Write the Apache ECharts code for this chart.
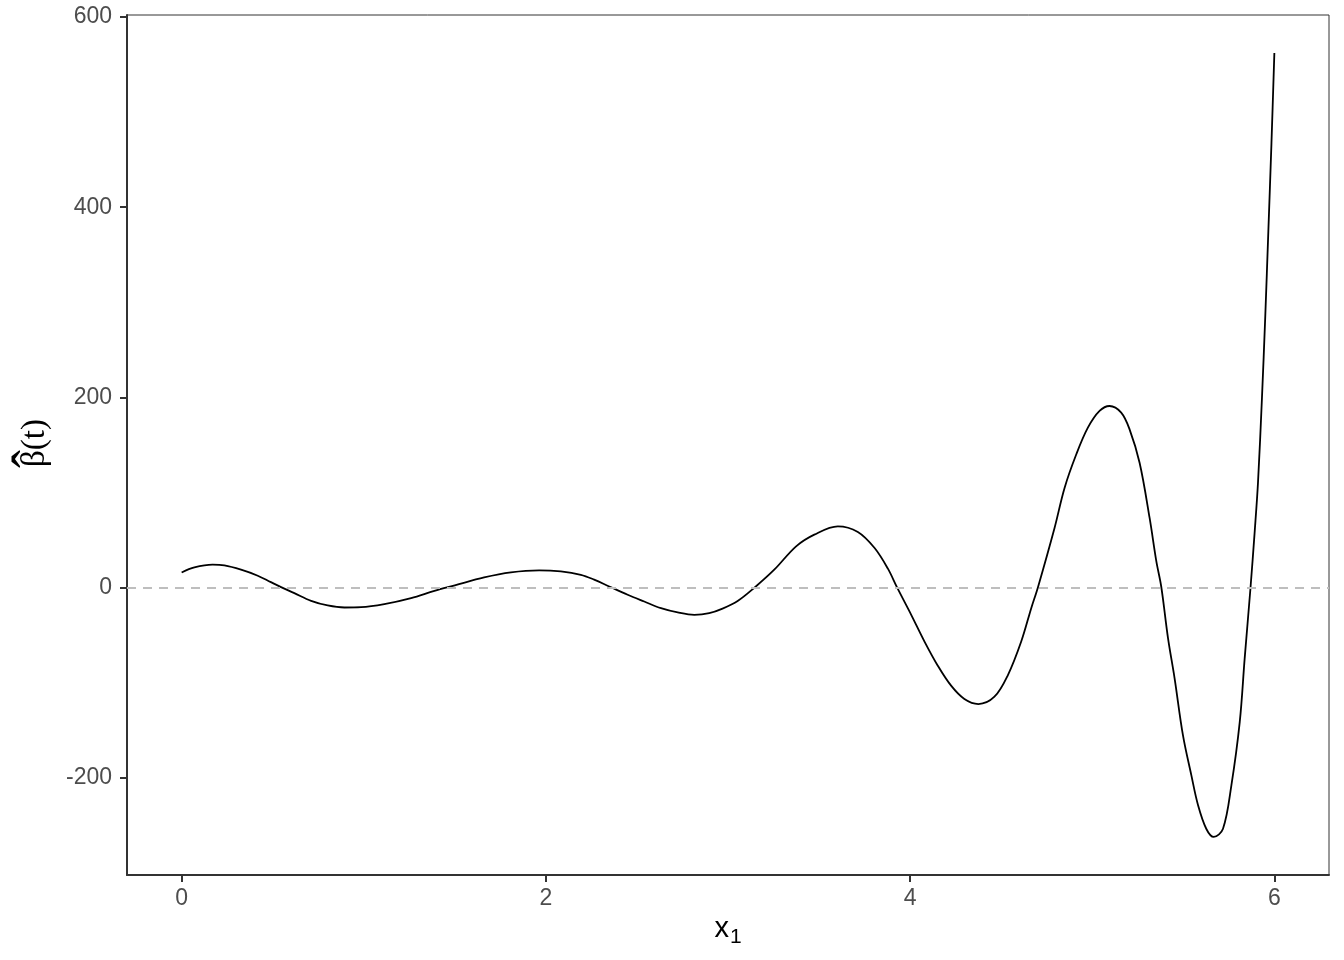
<!DOCTYPE html>
<html>
<head>
<meta charset="utf-8">
<script src="https://cdn.jsdelivr.net/npm/echarts@6/dist/echarts.min.js"></script>
<style>
  html, body { margin: 0; padding: 0; background: #fff; }
  #chart { width: 1344px; height: 960px; }
</style>
</head>
<body>
<div id="chart"></div>
<script>

// values
var tValues = [
  0.0, 0.07, 0.17, 0.235, 0.326, 0.418, 0.49, 0.546, 0.619, 0.711, 0.802, 0.894, 0.985, 1.113, 1.26, 1.388, 1.5,
  1.661, 1.808, 1.963, 2.082, 2.192, 2.265, 2.348, 2.449, 2.54, 2.632, 2.724, 2.815, 2.897, 2.97, 3.053, 3.145, 3.254,
  3.374, 3.474, 3.603, 3.713, 3.805, 3.878, 3.929, 4.006, 4.079, 4.152, 4.225, 4.298, 4.375, 4.463, 4.537, 4.61, 4.665,
  4.702, 4.793, 4.848, 4.912, 4.976, 5.04, 5.095, 5.159, 5.205, 5.26, 5.315, 5.352, 5.379, 5.416, 5.452, 5.498, 5.544,
  5.581, 5.626, 5.667, 5.718, 5.764, 5.81, 5.837, 5.869, 5.892, 5.91, 5.932, 5.95, 5.967, 5.984, 6.0
];

var betaValues = [
  16, 21.3, 24.2, 23.4, 18.9, 12.6, 5.8, 0.6, -5.7, -13.8, -18.7, -20.8, -20.5, -17.3, -11, -3.3, 2.5,
  10.8, 16.1, 18.2, 17.1, 13.6, 8.5, 1.3, -7.4, -14.5, -21.5, -26, -28.5, -26.8, -22, -14, 0, 18.9,
  43.5, 55.8, 64.5, 58.6, 41.7, 20, 0, -28.5, -56.6, -82, -103, -117, -122.3, -114.6, -91.8, -56.6, -21.5,
  0.6, 62.8, 104.9, 140, 168.2, 185.8, 191, 184, 166.4, 131.3, 73.3, 27.7, 1, -53, -95, -155, -197,
  -228.7, -253.4, -262, -253.4, -207.7, -141, -74.3, 0, 59, 110, 200, 285, 375, 467, 562
];

var xTicks = [0, 2, 4, 6];
var yTicks = [-200, 0, 200, 400, 600];

var curve = [];
for (var i = 0; i < tValues.length; i++) {
  curve.push([tValues[i], betaValues[i]]);
}

var chart = echarts.init(document.getElementById("chart"));

var labelFont = "'Liberation Sans', Arial, sans-serif";
var serifFont = "'Liberation Serif', 'Times New Roman', serif";

var option = {
  backgroundColor: "#fff",
  animation: false,

  grid: {
    left: 127,
    right: 15,
    top: 15,
    bottom: 85,
    show: true,
    borderColor: "#333333",
    borderWidth: 1
  },

  xAxis: {
    type: "value",
    min: -0.3,
    max: 6.3,
    name: "{x|x}{s|1}",
    nameLocation: "middle",
    nameGap: 32,
    nameTextStyle: {
      rich: {
        x: { fontSize: 29, fontFamily: labelFont, color: "#000", lineHeight: 36, verticalAlign: "middle" },
        s: { fontSize: 21, fontFamily: labelFont, color: "#000", lineHeight: 36, verticalAlign: "bottom", padding: [0, 0, 0, 1] }
      }
    },
    splitLine: { show: false },
    axisLine: { show: true, onZero: false, lineStyle: { color: "#333333", width: 2 } },
    axisTick: { show: true, length: 7, customValues: xTicks, lineStyle: { color: "#333333", width: 2 } },
    axisLabel: {
      customValues: xTicks,
      margin: 12,
      fontSize: 23,
      fontFamily: labelFont,
      color: "#4D4D4D"
    }
  },

  yAxis: {
    type: "value",
    min: -302,
    max: 602,
    splitLine: { show: false },
    axisLine: { show: true, onZero: false, lineStyle: { color: "#333333", width: 2 } },
    axisTick: { show: true, length: 7, customValues: yTicks, lineStyle: { color: "#333333", width: 2 } },
    axisLabel: {
      customValues: yTicks,
      margin: 15,
      fontSize: 23,
      fontFamily: labelFont,
      color: "#4D4D4D"
    }
  },

  // y title: beta with a hat, turned to read upward
  graphic: [
    {
      type: "group",
      x: 35,
      y: 443,
      rotation: Math.PI / 2,
      children: [
        {
          type: "text",
          x: 0,
          y: 0,
          style: { text: "\u03B2(t)", font: "33px " + serifFont, fill: "#000", align: "center", verticalAlign: "middle" }
        },
        {
          type: "text",
          x: -16,
          y: 0.5,
          style: { text: "\u02C6", font: "54px " + serifFont, fill: "#000", align: "center", verticalAlign: "middle" }
        }
      ]
    }
  ],

  series: [
    {
      type: "line",
      data: curve,
      smooth: 0.35,
      showSymbol: false,
      lineStyle: { color: "#000", width: 1.8 },
      markLine: {
        silent: true,
        symbol: ["none", "none"],
        label: { show: false },
        lineStyle: { color: "#BEBEBE", width: 2, type: [9, 7] },
        data: [{ yAxis: 0 }]
      }
    }
  ]
};

chart.setOption(option);

</script>
</body>
</html>
